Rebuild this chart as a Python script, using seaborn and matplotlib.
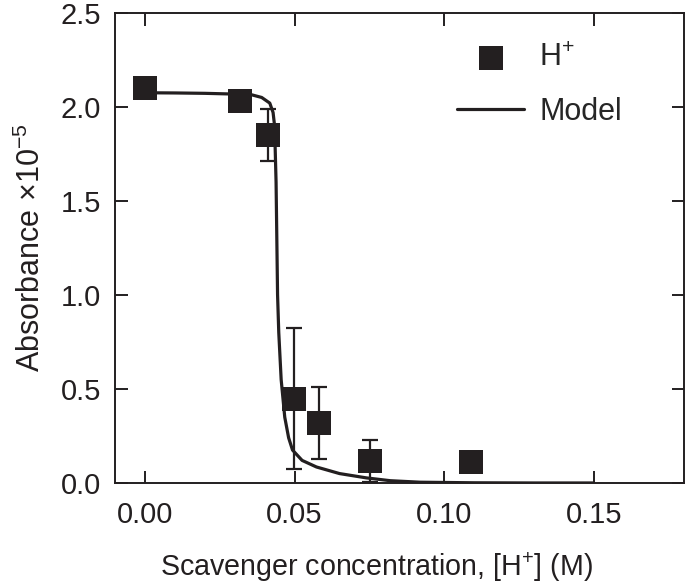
import numpy as np
import pandas as pd
import matplotlib
matplotlib.use('Agg')
import matplotlib.pyplot as plt
import seaborn as sns

conc = [0.0, 0.0317, 0.041, 0.0497, 0.0583, 0.0753, 0.109]
absorb = [2.10, 2.03, 1.85, 0.447, 0.32, 0.117, 0.11]
err = [0.0, 0.0, 0.14, 0.375, 0.19, 0.11, 0.0]

# Model curve
model_x = [0.0, 0.01, 0.02, 0.03, 0.0357, 0.039, 0.0417, 0.0428, 0.0433, 0.0438,
           0.0443, 0.0447, 0.0455, 0.0467, 0.048, 0.0493, 0.0525, 0.0573,
           0.065, 0.074, 0.082, 0.092, 0.11, 0.13, 0.15]
model_y = [2.075, 2.074, 2.072, 2.068, 2.064, 2.05, 2.02, 1.97, 1.9, 1.6,
           1.0, 0.8, 0.55, 0.35, 0.24, 0.175, 0.12, 0.085,
           0.05, 0.027, 0.012, 0.004, 0.001, 0.0, 0.0]

sns.set_style('ticks')
plt.rcParams['font.family'] = ['Liberation Sans', 'DejaVu Sans']
plt.rcParams['mathtext.fontset'] = 'custom'
plt.rcParams['mathtext.rm'] = 'Liberation Sans'
plt.rcParams['mathtext.it'] = 'Liberation Sans:italic'
plt.rcParams['axes.unicode_minus'] = True

ink = '#231f20'
fig = plt.figure(figsize=(6.85, 5.84), dpi=100)
ax = fig.add_axes([0.168, 0.173, 0.83, 0.805])

pts = pd.DataFrame({'x': conc, 'y': absorb, 'e': err})
model = pd.DataFrame({'x': model_x, 'y': model_y})

sns.lineplot(data=model, x='x', y='y', ax=ax, color=ink, linewidth=2.3,
             label='Model', zorder=2)
ax.errorbar(pts['x'], pts['y'], yerr=pts['e'], fmt='none', ecolor=ink,
            elinewidth=1.6, capsize=6, capthick=1.6, zorder=3)
sns.scatterplot(data=pts, x='x', y='y', ax=ax, marker='s', s=300, color=ink,
                edgecolor=ink, linewidth=0, label='H$^{+}$', zorder=4)

ax.set_xlim(-0.01, 0.18)
ax.set_ylim(0, 2.5)
ax.set_xticks([0.0, 0.05, 0.10, 0.15])
ax.set_xticklabels(['0.00', '0.05', '0.10', '0.15'])
ax.set_yticks([0.0, 0.5, 1.0, 1.5, 2.0, 2.5])
ax.set_yticklabels(['0.0', '0.5', '1.0', '1.5', '2.0', '2.5'])
ax.tick_params(direction='in', length=9, width=1.4, labelsize=21, colors=ink,
               top=True, right=True)
ax.tick_params(axis='x', pad=13)
ax.tick_params(axis='y', pad=10)
for s in ax.spines.values():
    s.set_linewidth(1.4)
    s.set_color(ink)

ax.set_xlabel('Scavenger concentration, [H$^{+}$] (M)', fontsize=20.6, color=ink,
              labelpad=15)
ax.xaxis.label.set_x(0.46)
ax.set_ylabel('Absorbance \u00d710$^{\u22125}$', fontsize=22, color=ink, labelpad=10)

h, l = ax.get_legend_handles_labels()
order = [l.index('H$^{+}$'), l.index('Model')]
ax.legend([h[i] for i in order], [l[i] for i in order], loc='upper right',
          bbox_to_anchor=(0.94, 0.995), frameon=False, fontsize=22,
          handlelength=2.2, handletextpad=0.5, labelspacing=0.8, markerscale=1.0)

fig.savefig('out.png', dpi=100)
